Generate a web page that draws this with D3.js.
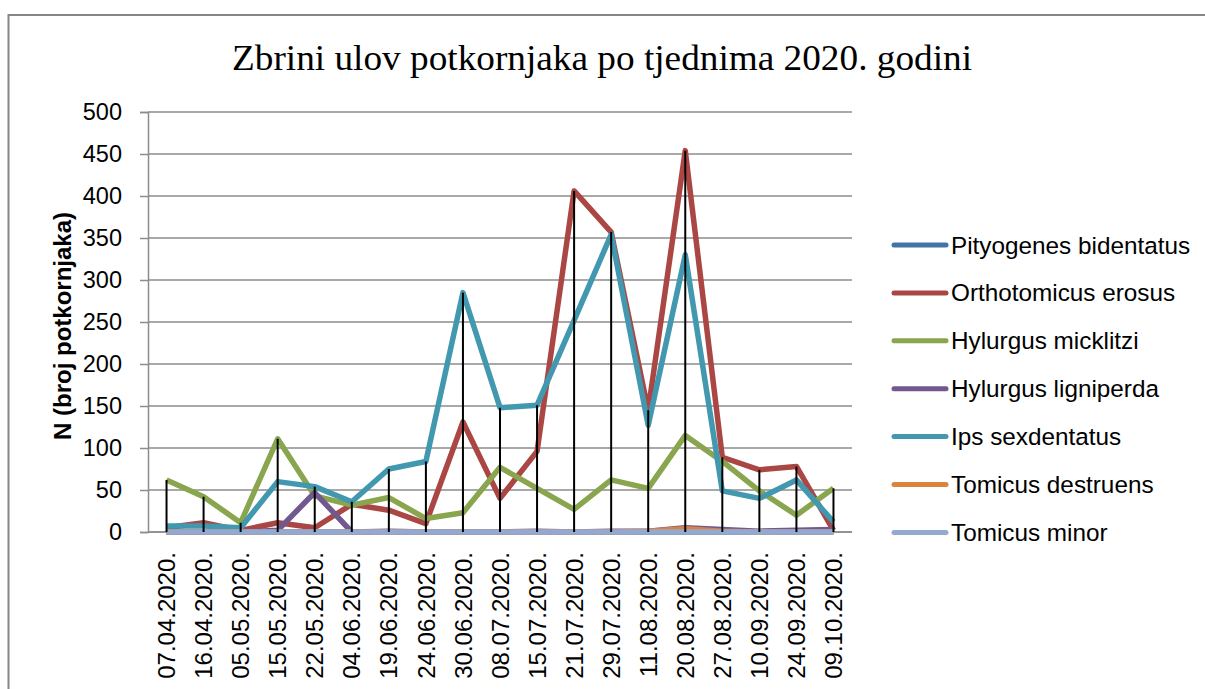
<!DOCTYPE html>
<html>
<head>
<meta charset="utf-8">
<script src="https://cdn.jsdelivr.net/npm/d3@7"></script>
<style>
  body { margin: 0; background: #fff; }
  svg { display: block; }
</style>
</head>
<body>
<div id="chart"></div>
<script>
// categories (sampling dates)
var dates = ['07.04.2020.', '16.04.2020.', '05.05.2020.', '15.05.2020.', '22.05.2020.',
  '04.06.2020.', '19.06.2020.', '24.06.2020.', '30.06.2020.', '08.07.2020.',
  '15.07.2020.', '21.07.2020.', '29.07.2020.', '11.08.2020.', '20.08.2020.',
  '27.08.2020.', '10.09.2020.', '24.09.2020.', '09.10.2020.'];

var seriesNames = ['Pityogenes bidentatus', 'Orthotomicus erosus', 'Hylurgus micklitzi',
  'Hylurgus ligniperda', 'Ips sexdentatus', 'Tomicus destruens', 'Tomicus minor'];

var pityogenes   = [0, 0, 0, 0, 0, 0, 0, 0, 0, 0, 0, 0, 0, 0, 0, 0, 0, 0, 0];
var orthotomicus = [5, 11, 2, 11, 5, 33, 26, 10, 131, 40, 96, 406, 357, 145, 454, 89, 74, 78, 2];
var micklitzi    = [62, 42, 11, 111, 43, 32, 41, 16, 23, 77, 52, 27, 62, 52, 115, 84, 49, 20, 52];
var ligniperda   = [0, 0, 0, 2, 47, 0, 1, 0, 0, 0, 1, 0, 1, 1, 5, 3, 1, 2, 3];
var sexdentatus  = [7, 7, 5, 60, 54, 36, 75, 84, 285, 148, 151, 252, 354, 127, 330, 49, 40, 62, 12];
var destruens    = [0, 0, 0, 0, 0, 0, 0, 0, 0, 0, 0, 0, 0, 1, 4, 1, 0, 0, 0];
var minor        = [0, 0, 0, 0, 0, 0, 0, 0, 0, 0, 0, 0, 0, 0, 0, 0, 0, 0, 0];

var yTicks = [0, 50, 100, 150, 200, 250, 300, 350, 400, 450, 500];

var colors = ['#4572A7', '#AA4643', '#89A54E', '#71588F', '#4198AF', '#DB843D', '#93A9CF'];

var allValues = [pityogenes, orthotomicus, micklitzi, ligniperda, sexdentatus, destruens, minor];

function drawChart(divId) {
  var width = 1205, height = 689;
  var left = 148, right = 852, top = 112, bottom = 532;
  var sans = '"Liberation Sans", Arial, sans-serif';

  var svg = d3.select(divId)
    .append('svg')
    .attr('width', width)
    .attr('height', height);

  // chart area frame (runs off the right and bottom edges)
  svg.append('rect')
    .attr('x', 8.5)
    .attr('y', 15)
    .attr('width', 1300)
    .attr('height', 800)
    .attr('fill', 'none')
    .attr('stroke', '#868686')
    .attr('stroke-width', 2);

  svg.append('text')
    .attr('x', 602)
    .attr('y', 70)
    .attr('text-anchor', 'middle')
    .attr('textLength', 740)
    .attr('lengthAdjust', 'spacingAndGlyphs')
    .style('font-family', '"Liberation Serif", "Times New Roman", serif')
    .style('font-size', '36px')
    .text('Zbrini ulov potkornjaka po tjednima 2020. godini');

  var x = d3.scalePoint().domain(dates).range([left, right]).padding(0.5);
  var y = d3.scaleLinear().domain([0, 500]).range([bottom, top]);

  // horizontal gridlines
  svg.append('g')
    .selectAll('line')
    .data(yTicks)
    .enter()
    .append('line')
    .attr('x1', left)
    .attr('x2', right)
    .attr('y1', d => y(d))
    .attr('y2', d => y(d))
    .attr('stroke', '#8c8c8c')
    .attr('stroke-width', 1.5);

  var yAxis = svg.append('g')
    .attr('transform', `translate(${left},0)`)
    .call(d3.axisLeft(y).tickValues(yTicks).tickSize(8).tickPadding(18));
  yAxis.select('.domain').attr('stroke', '#8c8c8c').attr('stroke-width', 1.5);
  yAxis.selectAll('.tick line').attr('stroke', '#8c8c8c').attr('stroke-width', 1.5);
  yAxis.selectAll('.tick text')
    .style('font-family', sans)
    .style('font-size', '23.5px')
    .attr('fill', '#000');

  // category axis line
  svg.append('line')
    .attr('x1', left)
    .attr('x2', right)
    .attr('y1', bottom)
    .attr('y2', bottom)
    .attr('stroke', '#8c8c8c')
    .attr('stroke-width', 1.5);

  svg.append('g')
    .selectAll('text')
    .data(dates)
    .enter()
    .append('text')
    .attr('transform', d => `translate(${x(d)},552) rotate(-90)`)
    .attr('text-anchor', 'end')
    .attr('dy', '0.36em')
    .style('font-family', sans)
    .style('font-size', '24px')
    .text(d => d);

  svg.append('text')
    .attr('transform', 'translate(63,326) rotate(-90)')
    .attr('text-anchor', 'middle')
    .attr('dy', '0.35em')
    .style('font-family', sans)
    .style('font-size', '24px')
    .style('font-weight', 'bold')
    .text('N (broj potkornjaka)');

  // series lines, later series on top
  var line = d3.line()
    .x((d, i) => x(dates[i]))
    .y(d => y(d));

  svg.append('g')
    .selectAll('path')
    .data(allValues)
    .enter()
    .append('path')
    .attr('d', d => line(d))
    .attr('fill', 'none')
    .attr('stroke', (d, i) => colors[i])
    .attr('stroke-width', 5.5)
    .attr('stroke-linejoin', 'round');

  // drop lines from the highest point of each category
  var maxima = dates.map((d, i) => d3.max(allValues, s => s[i]));

  svg.append('g')
    .selectAll('line')
    .data(maxima)
    .enter()
    .append('line')
    .attr('x1', (d, i) => x(dates[i]))
    .attr('x2', (d, i) => x(dates[i]))
    .attr('y1', d => y(d))
    .attr('y2', y(0))
    .attr('stroke', '#000')
    .attr('stroke-width', 2);

  // legend
  var legend = svg.append('g')
    .selectAll('g')
    .data(seriesNames)
    .enter()
    .append('g')
    .attr('transform', (d, i) => `translate(892,${245 + i * 47.9})`);

  legend.append('line')
    .attr('x1', 2)
    .attr('x2', 54)
    .attr('stroke', (d, i) => colors[i])
    .attr('stroke-width', 5)
    .attr('stroke-linecap', 'round');

  legend.append('text')
    .attr('x', 59)
    .attr('dy', '0.35em')
    .style('font-family', sans)
    .style('font-size', '24.3px')
    .text(d => d);
}

drawChart('#chart');
</script>
</body>
</html>
